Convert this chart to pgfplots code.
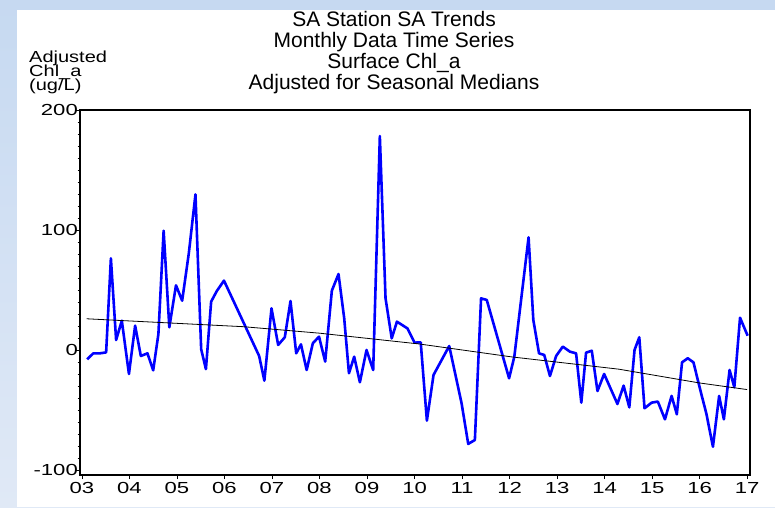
\documentclass[border=0pt]{standalone}
\usepackage{fontspec}
\setmainfont{Liberation Sans}
\usepackage{pgfplots}
\pgfplotsset{compat=1.18}
\definecolor{bgblue}{RGB}{198,217,241}
\definecolor{bgblue2}{RGB}{224,233,246}
\newcommand{\sx}[1]{\scalebox{1.38}[1]{#1}}
\newcommand{\sy}[1]{\scalebox{1.25}[1]{#1}}
\begin{document}
\begin{tikzpicture}[x=1pt,y=1pt]
\useasboundingbox (0,0) rectangle (775,507);
\shade[top color=bgblue, bottom color=bgblue2] (0,0) rectangle (775,507);
\fill[bgblue] (0,497) rectangle (775,507);
\fill[white] (17,0) rectangle (775,497);
\begin{axis}[at={(80pt,32pt)}, anchor=south west, scale only axis,
  width=670pt, height=365pt,
  xmin=2002.96, xmax=2017.06, ymin=-104.2, ymax=200,
  axis line style={line width=1.5pt},
  tick align=outside, major tick length=4pt, minor tick length=2.5pt,
  tick style={black, line width=0.8pt},
  xtick={2003,2004,2005,2006,2007,2008,2009,2010,2011,2012,2013,2014,2015,2016,2017},
  xticklabels={\sx{03},\sx{04},\sx{05},\sx{06},\sx{07},\sx{08},\sx{09},\sx{10},\sx{11},\sx{12},\sx{13},\sx{14},\sx{15},\sx{16},\sx{17}},
  ytick={-100,0,100,200}, yticklabels={\sx{-100},\sx{0},\sx{100},\sx{200}},
  minor y tick num=9,
  xtick pos=bottom, ytick pos=left,
  tick label style={font=\fontsize{16}{16}\selectfont},
  yticklabel style={anchor=east, inner sep=0pt, xshift=2pt},
  xticklabel style={anchor=north, inner sep=0pt, yshift=-3pt},
  clip=false,
]
\addplot[blue, line width=2.6pt, line join=round] coordinates {
(2003.11,-7.8) (2003.24,-2.8) (2003.38,-2.8) (2003.51,-2) (2003.61,76.4)
(2003.72,8.3) (2003.84,24.4) (2003.99,-20) (2004.12,20.3) (2004.24,-5)
(2004.38,-2.8) (2004.50,-17) (2004.61,13.3) (2004.72,99.4) (2004.84,18.9)
(2004.98,53.9) (2005.11,41.1) (2005.25,80.6) (2005.39,129.7) (2005.51,0.6)
(2005.61,-16) (2005.72,40.3) (2005.84,49.2) (2005.99,57.8) (2006.73,-5)
(2006.84,-25.6) (2006.99,34.7) (2007.13,4.2) (2007.27,10.6) (2007.39,40.8)
(2007.51,-2.8) (2007.61,4.7) (2007.73,-16.7) (2007.86,5.6) (2007.99,11.1)
(2008.12,-9.7) (2008.26,49.4) (2008.40,63.3) (2008.52,26.4) (2008.62,-19.4)
(2008.73,-5.6) (2008.85,-26.9) (2008.99,0) (2009.13,-16.7) (2009.27,178.3)
(2009.39,43) (2009.52,9.7) (2009.63,23.6) (2009.85,18) (2010.00,6.1)
(2010.13,6.4) (2010.26,-58.9) (2010.40,-20.8) (2010.73,3.3) (2010.99,-44.4)
(2011.13,-78.3) (2011.27,-75) (2011.40,43) (2011.52,41.7) (2011.99,-23.6)
(2012.10,-5.6) (2012.40,93.9) (2012.50,25) (2012.62,-2.8) (2012.73,-4.2)
(2012.85,-21.7) (2012.98,-5) (2013.12,2.8) (2013.27,-1.4) (2013.40,-2.8)
(2013.51,-43.9) (2013.61,-2.2) (2013.73,-0.6) (2013.85,-34.2) (2013.99,-20)
(2014.27,-45) (2014.40,-29.7) (2014.52,-47.8) (2014.63,0) (2014.73,10.6)
(2014.84,-48.6) (2014.99,-43.9) (2015.12,-43) (2015.27,-57.8) (2015.41,-38.3)
(2015.52,-53.6) (2015.63,-10.3) (2015.75,-6.9) (2015.87,-10.3) (2016.01,-32.8)
(2016.14,-52.8) (2016.28,-80.6) (2016.41,-38.3) (2016.51,-57.8) (2016.63,-16.7)
(2016.73,-31.1) (2016.85,26.9) (2017.01,11.9)
};
\addplot[black, line width=0.8pt] coordinates {
(2003.1,26) (2006.4,19.4) (2008.0,14) (2010.1,5) (2012.05,-5.8) (2014.3,-16) (2016.0,-27.5) (2017,-33)
};
\end{axis}
\begin{scope}[font=\fontsize{21}{21}\selectfont]
\node[anchor=base, inner sep=0pt] at (394,480) {SA Station SA Trends};
\node[anchor=base, inner sep=0pt] at (394,459) {Monthly Data Time Series};
\node[anchor=base, inner sep=0pt] at (394,438) {Surface Chl\_a};
\node[anchor=base, inner sep=0pt] at (394,417) {Adjusted for Seasonal Medians};
\end{scope}
\begin{scope}[font=\fontsize{16}{16}\selectfont]
\node[anchor=base west, inner sep=0pt] at (29,444) {\sy{Adjusted}};
\node[anchor=base west, inner sep=0pt] at (29,430) {\sy{Chl\_a}};
\node[anchor=base west, inner sep=0pt] at (29,416.5) {\sy{(ug/L)}};
\end{scope}
\end{tikzpicture}
\end{document}
